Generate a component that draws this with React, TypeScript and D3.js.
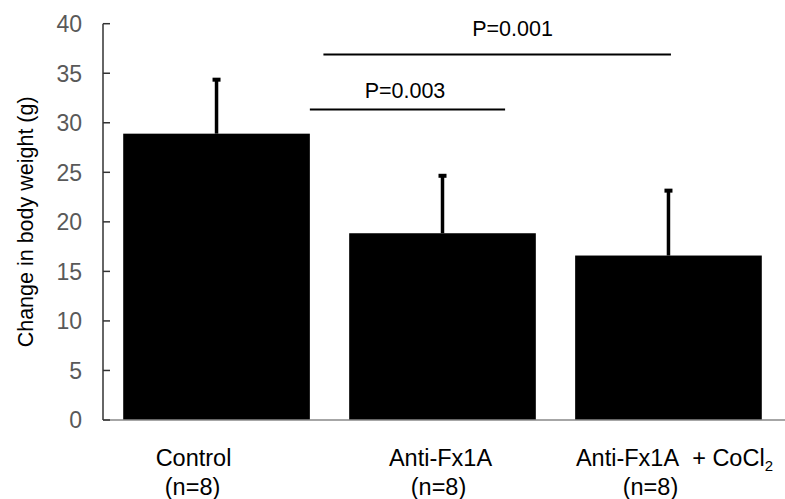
import React from "react";
import * as d3 from "d3";

const categories = ["Control", "Anti-Fx1A", "Anti-Fx1A + CoCl2"];
const means = [28.9, 18.85, 16.6];
const errors = [5.5, 5.85, 6.6];
const yTicks = [0, 5, 10, 15, 20, 25, 30, 35, 40];
// significance brackets: start/end/label positions in category-index units, y in data units
const sigLabels = ["P=0.003", "P=0.001"];
const sigStart = [0.413, 0.473];
const sigEnd = [1.277, 2.011];
const sigLabelPos = [0.834, 1.31];
const sigY = [31.35, 36.9];
const sigLabelY = [32.5, 38.8];
// category label offsets (px) for line 1 and line 2
const labelOffset1 = [-23, -2, 6];
const labelOffset2 = [-24, -4, -18];

const W = 785;
const H = 499;
const FONT = "'Liberation Sans', Arial, sans-serif";

export default function App() {
  const y = d3.scaleLinear().domain([0, 40]).range([420, 23.7]);
  const x = d3
    .scaleBand<string>()
    .domain(categories)
    .range([104, 781])
    .paddingInner(0.174)
    .paddingOuter(0.085);
  const bw = x.bandwidth();
  const center = (i: number) => (x(categories[i]) as number) + bw / 2;
  const idx = d3
    .scaleLinear()
    .domain([0, 1])
    .range([center(0), center(1)]);

  return (
    <svg
      width={W}
      height={H}
      style={{ position: "absolute", left: 0, top: 0, background: "#fff" }}
      fontFamily={FONT}
    >
      {/* bars */}
      {categories.map((c, i) => (
        <rect
          key={c}
          x={x(c)}
          y={y(means[i])}
          width={bw}
          height={y(0) - y(means[i])}
          fill="#000"
        />
      ))}
      {/* error bars */}
      {categories.map((c, i) => {
        const cx = center(i);
        return (
          <g key={"e" + c}>
            <line
              x1={cx}
              x2={cx}
              y1={y(means[i])}
              y2={y(means[i] + errors[i])}
              stroke="#000"
              strokeWidth={3.5}
            />
            <rect
              x={cx - 4}
              y={y(means[i] + errors[i]) - 1.5}
              width={8}
              height={4}
              fill="#000"
            />
          </g>
        );
      })}
      {/* x axis baseline */}
      <line x1={103} x2={W} y1={y(0)} y2={y(0)} stroke="#888" strokeWidth={1.5} />
      {/* y axis */}
      <line x1={103} x2={103} y1={y(40)} y2={y(0)} stroke="#333" strokeWidth={1.5} />
      {yTicks.map((t) => (
        <g key={t}>
          <line x1={103} x2={110} y1={y(t)} y2={y(t)} stroke="#333" strokeWidth={1.5} />
          <text
            x={82}
            y={y(t)}
            dy="0.36em"
            textAnchor="end"
            fontSize={23}
            fill="#595959"
          >
            {t}
          </text>
        </g>
      ))}
      {/* y title */}
      <text
        transform={`translate(33, ${(y(0) + y(40)) / 2}) rotate(-90)`}
        textAnchor="middle"
        fontSize={21.5}
        fill="#000"
      >
        Change in body weight (g)
      </text>
      {/* significance */}
      {sigLabels.map((s, i) => (
        <g key={s}>
          <line
            x1={idx(sigStart[i])}
            x2={idx(sigEnd[i])}
            y1={y(sigY[i])}
            y2={y(sigY[i])}
            stroke="#000"
            strokeWidth={2}
          />
          <text
            x={idx(sigLabelPos[i])}
            y={y(sigLabelY[i])}
            textAnchor="middle"
            fontSize={21.5}
            fill="#000"
          >
            {s}
          </text>
        </g>
      ))}
      {/* category labels */}
      {categories.map((c, i) => {
        const cx = center(i);
        const isCo = c.includes("CoCl2");
        return (
          <g key={"l" + c}>
            <text
              x={cx + labelOffset1[i]}
              y={466}
              textAnchor="middle"
              fontSize={23.5}
              fill="#000"
            >
              {isCo ? (
                <>
                  {"Anti-Fx1A\u00a0 + CoCl"}
                  <tspan fontSize={15} dy={5}>
                    2
                  </tspan>
                </>
              ) : (
                c
              )}
            </text>
            <text
              x={cx + labelOffset2[i]}
              y={495}
              textAnchor="middle"
              fontSize={23.5}
              fill="#000"
            >
              (n=8)
            </text>
          </g>
        );
      })}
    </svg>
  );
}
